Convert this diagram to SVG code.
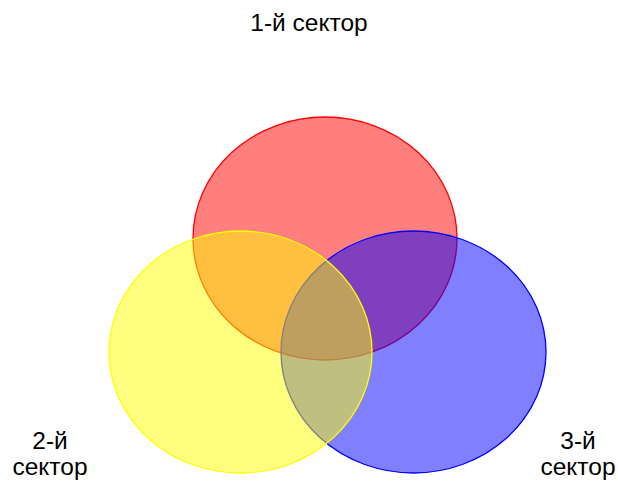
<svg xmlns="http://www.w3.org/2000/svg" width="618" height="482" viewBox="0 0 618 482">
<style>
text{font-family:"Liberation Sans",Arial,sans-serif;font-size:24.5px;fill:#000;text-anchor:middle}
.c{stroke-width:1.3}
</style>
<rect width="618" height="482" fill="#fff"/>
<g id="sector1"><ellipse class="c" cx="325" cy="238.5" rx="132" ry="121.5" fill="#FF0000" fill-opacity="0.5" stroke="#FF0000"/></g>
<g id="sector3"><ellipse class="c" cx="413.5" cy="352" rx="132.5" ry="121" fill="#0000FF" fill-opacity="0.5" stroke="#0000FF"/></g>
<g id="sector2"><ellipse class="c" cx="240.5" cy="352" rx="131.5" ry="121" fill="#FFFF00" fill-opacity="0.5" stroke="#FFFF00"/></g>
<g id="labels">
<text x="309" y="31">1-й сектор</text>
<text x="50" y="449">2-й</text>
<text x="50" y="475">сектор</text>
<text x="578" y="449">3-й</text>
<text x="578" y="475">сектор</text>
</g>
</svg>
